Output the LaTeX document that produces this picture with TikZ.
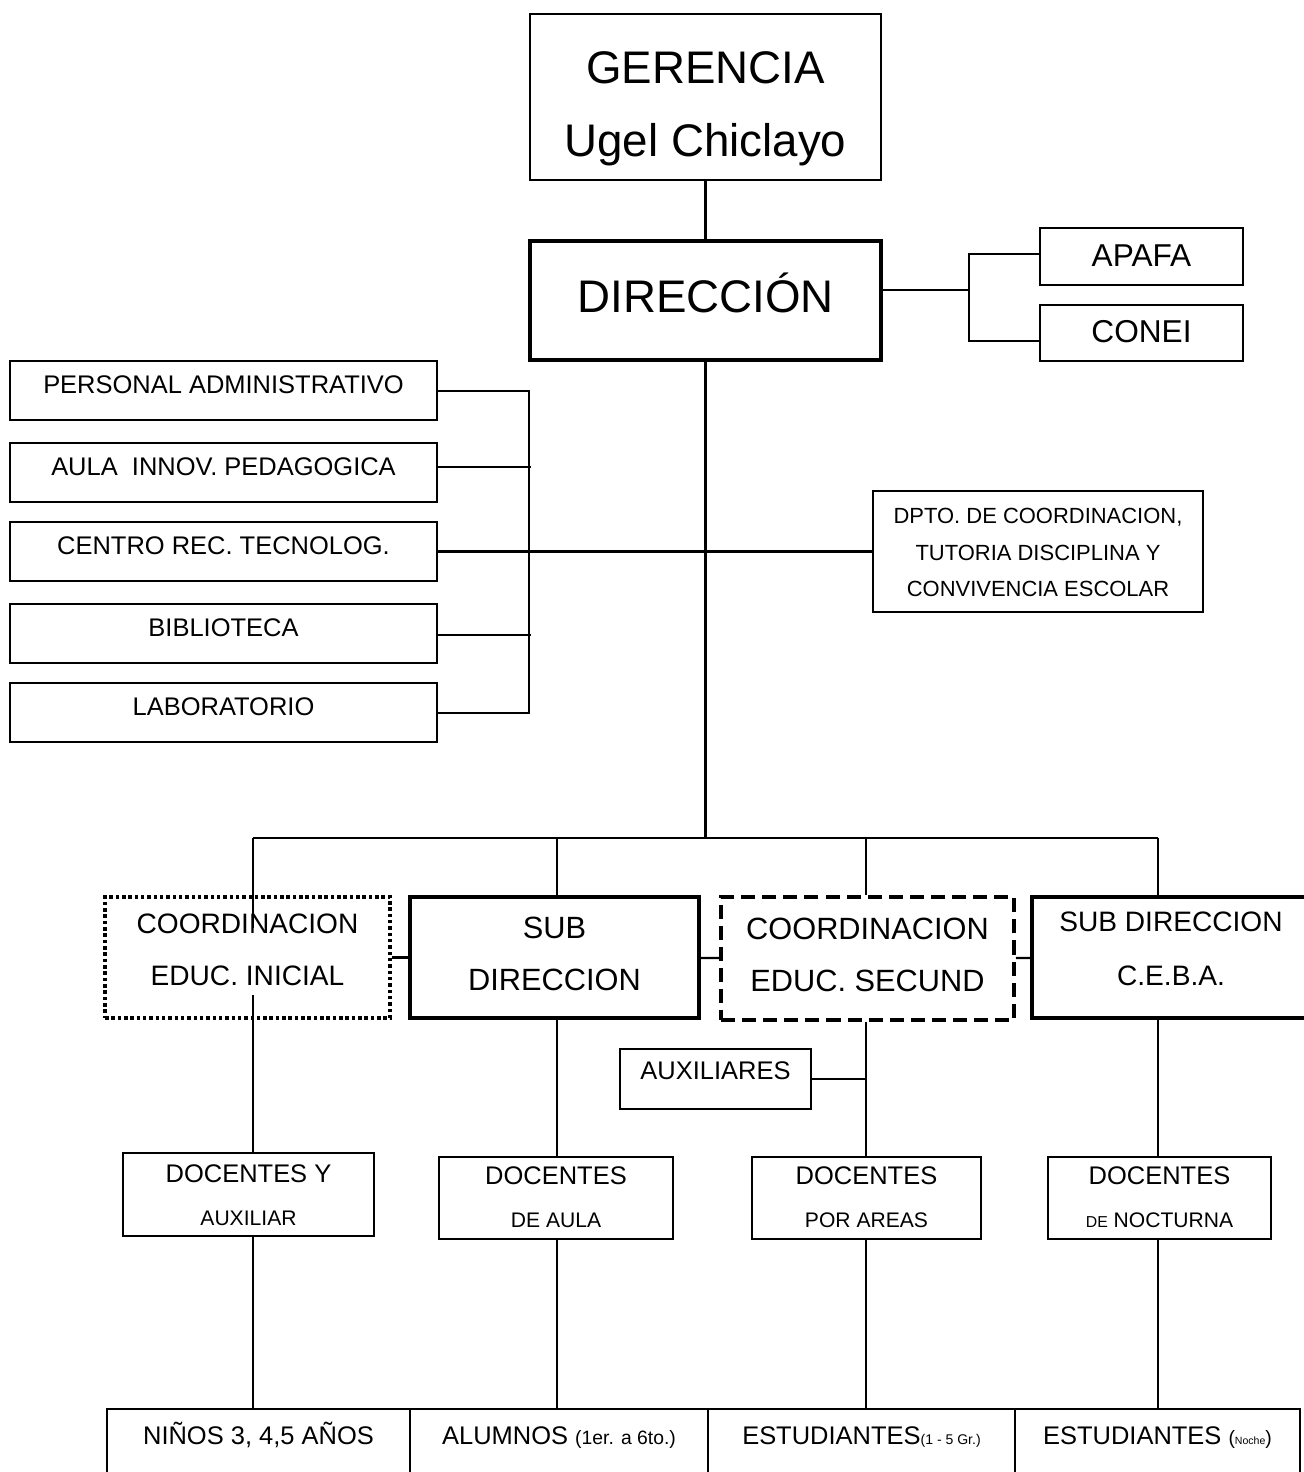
\documentclass[tikz,border=0pt]{standalone}
\usepackage{fontspec}
\setmainfont{Liberation Sans}
\usepackage{tikz}

\begin{document}
\begin{tikzpicture}[x=0.02cm, y=-0.02cm,
  box/.style={draw, line width=1.3pt, inner sep=0pt, align=center},
  heavybox/.style={box, line width=2.3pt},
  sidebox/.style={box, minimum width=8.54cm, text height=18.3pt, text depth=15.3pt, font=\fontsize{14.5}{17}\selectfont},
  docbox/.style={box, text height=40.1pt, text depth=6.5pt, font=\fontsize{14.5}{24.5}\selectfont},
  lowbox/.style={box, line width=1.2pt, anchor=north, text height=20pt, text depth=40pt, font=\fontsize{14.5}{17}\selectfont},
  wire/.style={line width=1.2pt}]

  \path[use as bounding box] (0,0) rectangle (1304,1472);
  \clip (0,0) rectangle (1304,1472);

  % top
  \node[box, line width=1.6pt, minimum width=7.02cm, text height=81pt, text depth=13.5pt, font=\fontsize{26}{41.5}\selectfont] (ger) at (705.5,97) {GERENCIA\\Ugel Chiclayo};
  \node[box, line width=2.8pt, minimum width=7.02cm, text height=40.6pt, text depth=27.1pt, font=\fontsize{26}{30}\selectfont] (dir) at (705.5,300.5) {DIRECCIÓN};
  \node[box, minimum width=4.06cm, text height=21.8pt, text depth=10.6pt, font=\fontsize{18}{20}\selectfont] (apafa) at (1141.5,256.5) {APAFA};
  \node[box, minimum width=4.06cm, text height=21.2pt, text depth=10.7pt, font=\fontsize{18}{20}\selectfont] (conei) at (1141.5,333) {CONEI};

  % left column
  \node[sidebox] (pers) at (223.5,390.5) {PERSONAL ADMINISTRATIVO};
  \node[sidebox] (aula) at (223.5,472.5) {AULA\ \ INNOV. PEDAGOGICA};
  \node[sidebox] (cent) at (223.5,551.5) {CENTRO\ REC.\ TECNOLOG.};
  \node[sidebox] (bibl) at (223.5,633.5) {BIBLIOTECA};
  \node[sidebox] (lab) at (223.5,712.5) {LABORATORIO};
  \node[box, minimum width=6.6cm, text height=60.2pt, text depth=8.6pt, font=\fontsize{12.5}{20.8}\selectfont] (dpto) at (1038,551.5) {DPTO. DE COORDINACION,\\TUTORIA DISCIPLINA Y\\CONVIVENCIA ESCOLAR};

  % middle row
  \node[box, line width=2pt, dash pattern=on 2pt off 1.6pt, minimum width=5.7cm, text height=50.1pt, text depth=18.8pt, font=\fontsize{16}{29.6}\selectfont] (coini) at (247.5,957.5) {COORDINACION\\EDUC.\ INICIAL};
  \node[heavybox, minimum width=5.78cm, text height=53.5pt, text depth=15.4pt, font=\fontsize{17.5}{29.6}\selectfont] (subdir) at (554.5,957.5) {SUB\\DIRECCION};
  \node[heavybox, dash pattern=on 8pt off 4pt, minimum width=5.86cm, text height=53.5pt, text depth=16.5pt, font=\fontsize{17.5}{29.6}\selectfont] (cosec) at (867.5,958.5) {COORDINACION\\EDUC.\ SECUND};
  \node[heavybox, minimum width=5.56cm, text height=50.1pt, text depth=18.8pt, font=\fontsize{16}{30.2}\selectfont] (ceba) at (1171,957.5) {SUB DIRECCION\\C.E.B.A.};
  \node[box, minimum width=3.82cm, text height=17.2pt, text depth=16.9pt, font=\fontsize{14.5}{17}\selectfont] (auxil) at (715.5,1079) {AUXILIARES};

  % docentes
  \node[docbox, minimum width=5.02cm, text height=41.3pt, text depth=6pt] (docini) at (248.5,1194.5) {DOCENTES Y\\{\fontsize{12}{12}\selectfont AUXILIAR}};
  \node[docbox, minimum width=4.68cm] (docaula) at (556,1198) {DOCENTES\\{\fontsize{12}{12}\selectfont DE AULA}};
  \node[docbox, minimum width=4.58cm] (docarea) at (866.5,1198) {DOCENTES\\{\fontsize{12}{12}\selectfont POR AREAS}};
  \node[docbox, minimum width=4.46cm] (docnoc) at (1159.5,1198) {DOCENTES\\{\fontsize{12}{12}\selectfont{\fontsize{9}{9}\selectfont DE} NOCTURNA}};

  % alumnos
  \node[lowbox, minimum width=6.06cm] (ninos) at (258.5,1408) {NIÑOS 3,\ 4,5 AÑOS};
  \node[lowbox, minimum width=5.96cm] (alum) at (559,1408) {ALUMNOS {\fontsize{11}{11}\selectfont(1er. a 6to.)}};
  \node[lowbox, minimum width=6.14cm] (estu) at (861.5,1408) {ESTUDIANTES{\fontsize{8}{8}\selectfont(1 - 5 Gr.)}};
  \node[lowbox, minimum width=5.70cm] (estn) at (1157.5,1408) {ESTUDIANTES {\fontsize{11}{11}\selectfont(}{\fontsize{6}{6}\selectfont Noche}{\fontsize{11}{11}\selectfont)}};

  \coordinate (ka) at (969,254);
  \coordinate (kc) at (969,341);
  \coordinate (kd) at (969,290);
  \coordinate (la) at (529,391);
  \coordinate (lb) at (531,467);
  \coordinate (ld) at (531,635);
  \coordinate (le) at (529,713);
  \coordinate (bus) at (705.5,838);
  \coordinate (b1) at (253,838);
  \coordinate (b2) at (557,838);
  \coordinate (b3) at (866,838);
  \coordinate (b4) at (1158,838);
  \coordinate (ci1) at (253,928);
  \coordinate (ci2) at (253,995);

  \path[wire]
    (ger) edge (dir)
    (cent) edge (dpto)
    (coini) edge (subdir)
    (subdir) edge (cosec)
    (cosec) edge (ceba);

  \draw[wire] (dir.east |- kd) -- (kd);
  \draw[wire] (apafa.west |- ka) -- (ka) -- (kc) -- (conei.west |- kc);
  \draw[wire] (pers.east |- la) -- (la) -- (le) -- (lab.east |- le);
  \draw[wire] (aula.east |- lb) -- (lb);
  \draw[wire] (bibl.east |- ld) -- (ld);

  \draw[wire] (dir.south) -- (bus);
  \draw[wire] (b1) -- (b4);
  \draw[wire] (b1) -- (ci1);
  \draw[wire] (ci2) -- (ci2 |- docini.north);
  \draw[wire] (ci2 |- docini.south) -- (ci2 |- ninos.north);
  \draw[wire] (b2) -- (b2 |- subdir.north);
  \draw[wire] (b2 |- subdir.south) -- (b2 |- docaula.north);
  \draw[wire] (b2 |- docaula.south) -- (b2 |- alum.north);
  \draw[wire] (b3) -- (b3 |- cosec.north);
  \draw[wire] (b3 |- cosec.south) -- (b3 |- docarea.north);
  \draw[wire] (auxil.east) -- (b3 |- auxil.east);
  \draw[wire] (b3 |- docarea.south) -- (b3 |- estu.north);
  \draw[wire] (b4) -- (b4 |- ceba.north);
  \draw[wire] (b4 |- ceba.south) -- (b4 |- docnoc.north);
  \draw[wire] (b4 |- docnoc.south) -- (b4 |- estn.north);

\end{tikzpicture}
\end{document}
